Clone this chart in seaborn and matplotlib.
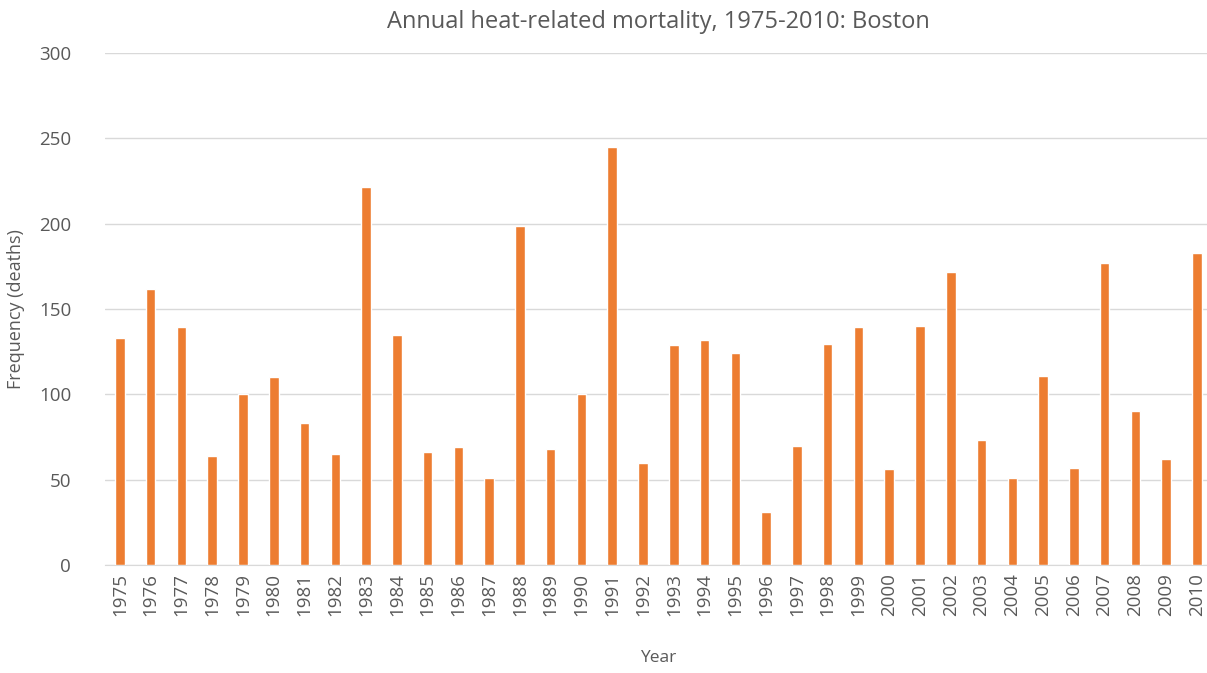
import matplotlib

matplotlib.use('Agg')
import matplotlib.pyplot as plt
import numpy as np
import pandas as pd
import seaborn as sns

years = [str(y) for y in range(1975, 2011)]
deaths = [133, 162, 139.5, 64, 100, 110, 83, 65, 221.5, 135,
          66, 69, 51, 198.5, 68, 100, 245, 60, 129, 132,
          124, 31, 70, 129.5, 139.5, 56, 140, 171.5, 73, 51,
          111, 57, 177, 90.5, 62, 183]

df = pd.DataFrame({'Year': years, 'deaths': deaths})

sns.set_style('white')
plt.rcParams['font.family'] = ['Open Sans', 'DejaVu Sans']
grey = '#595959'

fig = plt.figure(figsize=(12.07, 6.73), dpi=100)
ax = fig.add_axes([0.0866, 0.1605, 0.9178, 0.7607])

sns.barplot(data=df, x='Year', y='deaths', color='#ED7D31', saturation=1,
            width=0.31, ax=ax, zorder=3)

ax.set_ylim(0, 300)
ax.set_yticks(np.arange(0, 301, 50))
ax.set_xlim(-0.5, len(years) - 0.5)
ax.grid(axis='y', color='#D9D9D9', linewidth=1, zorder=0)
ax.set_axisbelow(True)
for s in ['top', 'right', 'left']:
    ax.spines[s].set_visible(False)
ax.spines['bottom'].set_color('#D9D9D9')

ax.tick_params(axis='x', rotation=90, labelsize=13.5, colors=grey, length=0, pad=6)
ax.tick_params(axis='y', labelsize=13.5, colors=grey, length=0, pad=24)

ax.set_xlabel('Year', fontsize=12.5, color=grey, labelpad=24)
ax.set_ylabel('Frequency (deaths)', fontsize=13, color=grey, labelpad=10)
ax.set_title('Annual heat-related mortality, 1975-2010: Boston', fontsize=17,
             color=grey, pad=18)

fig.savefig('out.png', dpi=100)
plt.close()
